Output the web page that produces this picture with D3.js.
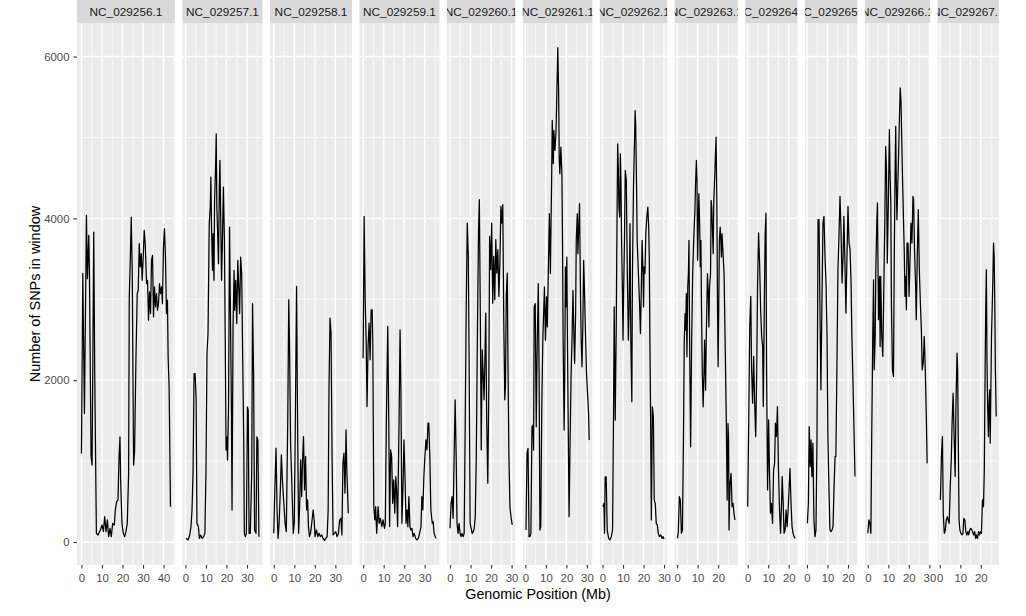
<!DOCTYPE html>
<html>
<head>
<meta charset="utf-8">
<script src="https://cdn.jsdelivr.net/npm/d3@7"></script>
<style>
  body { margin: 0; background: #fff; }
  text { font-family: "Liberation Sans", Arial, sans-serif; }
</style>
</head>
<body>
<svg id="chart" width="1026" height="616"></svg>
<script>
// chromosome (facet) labels
const chromosomes = ["NC_029256.1", "NC_029257.1", "NC_029258.1", "NC_029259.1",
  "NC_029260.1", "NC_029261.1", "NC_029262.1", "NC_029263.1", "NC_029264.1",
  "NC_029265.1", "NC_029266.1", "NC_029267.1"];

// [position (Mb), SNPs in window]
const nc029256 = [[0,1095],[0.65,3317],[1.46,1588],[2.43,4037],[2.91,3255],[3.56,3790],[3.88,3358],[4.69,1053],[5.18,950],[5.99,3831],[6.47,2082],[7.28,107],[8.09,86],[9.22,148],[10.03,210],[10.68,128],[11.33,313],[11.97,128],[12.62,272],[13.27,66],[13.92,169],[14.56,66],[15.21,230],[16.02,210],[16.5,395],[17.15,498],[17.8,518],[18.28,1012],[18.77,1300],[19.09,765],[19.74,230],[20.39,107],[21.04,66],[21.68,128],[22.33,230],[22.98,848],[23.3,3029],[23.79,3481],[24.27,4016],[24.76,3317],[25.4,950],[25.89,1115],[26.54,2247],[27.18,3070],[27.67,3111],[28.16,3687],[28.64,3399],[29.13,3564],[29.61,3234],[30.1,3522],[30.58,3852],[31.07,3687],[31.72,3193],[32.2,3234],[32.69,2741],[33.17,3090],[33.66,2823],[34.14,3481],[34.63,3543],[35.11,2782],[35.6,3152],[36.08,2905],[36.57,3070],[37.06,2864],[37.54,2946],[38.03,3193],[38.51,3070],[39,3152],[39.48,2946],[39.97,3646],[40.45,3872],[40.94,3522],[41.42,2823],[41.91,2988],[42.23,2288],[42.72,1918],[43.37,436]];

const nc029257 = [[0.3,45],[1.3,25],[2.1,86],[2.7,190],[3.2,395],[3.7,848],[4.2,2082],[4.7,2082],[5.2,1774],[5.6,230],[6.3,190],[6.8,45],[7.4,86],[8.1,45],[8.9,66],[9.5,107],[10,848],[10.5,2329],[11,2576],[11.6,3934],[12.1,4140],[12.4,4510],[12.7,3893],[13.2,3358],[13.5,3811],[13.9,3234],[14.2,4222],[14.7,4634],[15,5045],[15.3,4140],[15.8,3728],[16.1,3440],[16.5,4346],[16.8,4716],[17.3,3811],[17.6,3234],[18.1,3811],[18.5,4387],[19,3728],[19.4,2494],[19.8,1136],[20.2,1300],[20.5,1012],[21,1671],[21.5,3893],[21.9,2905],[22.4,1671],[22.7,395],[23.2,2658],[23.7,3358],[24,2864],[24.5,3234],[25,2699],[25.5,3481],[25.9,3193],[26.4,2823],[26.9,3522],[27.4,3317],[27.9,2288],[28.4,1259],[28.7,107],[29.2,66],[29.7,107],[30.2,1671],[30.6,1630],[31,107],[31.6,107],[32.3,848],[32.7,2946],[33.2,2082],[33.7,148],[34.4,107],[34.8,1300],[35.3,1259],[35.8,66]];

const nc029258 = [[0,107],[0.5,643],[1.1,1159],[1.6,396],[2.1,45],[2.6,231],[3.2,643],[3.7,1076],[4.2,767],[4.8,520],[5.5,231],[6.1,128],[6.8,1468],[7.3,2994],[7.7,2375],[8.2,1221],[8.9,643],[9.5,107],[10,231],[10.5,1509],[11.1,3159],[11.6,1468],[12.1,107],[12.6,437],[13.1,1015],[13.6,561],[14,994],[14.5,1303],[15,643],[15.5,1056],[16,396],[16.5,520],[16.9,190],[17.4,66],[17.9,107],[18.5,231],[19.2,396],[19.7,272],[20.1,66],[20.8,148],[21.5,66],[22.1,107],[22.7,66],[23.4,87],[24,45],[24.7,20],[25.3,45],[26,66],[26.5,396],[26.9,1881],[27.4,2767],[27.9,2582],[28.4,1056],[28.9,87],[29.5,107],[30.2,128],[30.8,66],[31.5,107],[32.1,272],[32.7,293],[33.2,87],[33.7,973],[34.2,1097],[34.7,602],[35.2,1386],[35.6,891],[36.3,355]];

const nc029259 = [[0,2272],[0.5,4025],[1,2994],[1.5,2458],[1.9,1674],[2.4,2417],[2.9,2705],[3.4,2252],[3.9,2870],[4.4,2870],[4.7,2499],[5.2,437],[5.7,272],[6.1,437],[6.6,107],[7.3,437],[7.8,231],[8.4,293],[9.1,190],[9.7,272],[10.4,169],[10.8,231],[11.3,1468],[12,2664],[12.5,1468],[12.9,190],[13.4,1138],[13.9,1056],[14.4,478],[14.9,767],[15.4,355],[15.9,808],[16.3,643],[16.8,190],[17.5,1468],[18,2623],[18.4,1881],[18.9,231],[19.4,643],[19.9,1262],[20.4,808],[20.9,231],[21.4,396],[21.8,190],[22.3,561],[22.8,190],[23.3,148],[23.8,169],[24.3,66],[24.9,107],[25.6,45],[26.2,25],[26.9,45],[27.5,107],[28.2,190],[28.6,561],[29.1,396],[29.6,808],[30.1,1056],[30.6,1262],[31.1,1138],[31.6,1468],[32,1468],[32.5,1056],[33,396],[33.7,231],[34.1,252],[34.6,107],[35.4,45]];

const nc029260 = [[0,169],[0.5,478],[1,561],[1.5,293],[2,1056],[2.5,1757],[3,1056],[3.4,231],[3.9,107],[4.4,231],[4.9,107],[5.4,66],[5.9,107],[6.4,66],[6.9,107],[7.4,1468],[7.9,2911],[8.4,3942],[8.9,3530],[9.3,2293],[9.8,231],[10.3,169],[10.8,107],[11.3,128],[11.8,169],[12.3,313],[12.8,1056],[13.4,2705],[13.9,3860],[14.3,4231],[14.8,2705],[15.2,1138],[15.7,2375],[16.2,2045],[16.6,1757],[16.9,2128],[17.4,2829],[17.9,1468],[18.4,726],[18.9,1881],[19.3,3778],[19.8,3365],[20.3,3942],[20.8,2952],[21.3,3530],[21.8,2994],[22.3,3736],[22.8,3324],[23.3,3612],[23.8,3035],[24.3,3448],[24.8,4149],[25.2,3942],[25.7,4169],[26.2,2705],[26.7,1757],[27,1922],[27.4,3035],[27.9,3324],[28.2,2293],[28.7,1056],[29.2,437],[29.7,313],[30.3,210]];

const nc029261 = [[0.3,148],[0.8,1095],[1.3,1156],[1.8,66],[2.2,66],[2.7,107],[3.2,1424],[3.7,1444],[4,1136],[4.3,2905],[4.8,2946],[5.3,1424],[5.8,2494],[6.3,3193],[6.7,2082],[7.1,148],[7.5,190],[8,1671],[8.5,2494],[9,2905],[9.3,3152],[9.8,2494],[10.3,3029],[10.7,2658],[11.1,3234],[11.4,3646],[11.7,4057],[12.2,3317],[12.5,3934],[12.8,4469],[13.1,5210],[13.6,4675],[13.9,5086],[14.4,4839],[14.9,5045],[15.2,5374],[15.5,5745],[15.8,6110],[16.2,5580],[16.5,4757],[16.8,4551],[17.3,4880],[17.8,4551],[18.1,3728],[18.4,2494],[18.9,1383],[19.2,2082],[19.5,3399],[19.9,2905],[20.2,3522],[20.5,2494],[20.8,1671],[21.3,313],[21.8,1259],[22.3,2082],[22.8,2576],[23.2,3111],[23.7,2494],[24,2206],[24.5,2823],[24.8,3728],[25.3,4057],[25.6,3564],[26,3893],[26.4,4181],[26.9,2988],[27.2,2494],[27.6,2165],[28,2658],[28.4,3481],[28.8,3111],[29.3,2576],[29.8,2082],[30.3,1835],[30.8,1588],[31.1,1259]];

const nc029262 = [[0.2,436],[0.7,477],[1,107],[1.3,806],[1.8,806],[2.3,148],[3,45],[3.6,25],[4.3,66],[4.9,148],[5.4,1671],[5.7,2905],[6.2,1506],[6.7,2658],[7,3728],[7.4,4922],[7.7,4634],[8,4140],[8.4,4016],[8.7,4798],[9,4469],[9.3,3728],[9.7,3111],[10,2494],[10.3,3111],[10.7,3728],[11.1,4593],[11.6,4469],[12.1,3317],[12.6,2494],[13,2905],[13.4,3934],[13.8,2494],[14.3,1732],[14.6,3317],[15.1,4387],[15.6,4963],[15.9,5333],[16.2,5127],[16.6,4387],[16.9,3728],[17.2,3522],[17.5,3317],[18,2988],[18.5,2576],[18.9,3111],[19.3,3728],[19.7,3399],[20,2905],[20.3,3399],[20.7,3317],[21.1,3811],[21.6,4016],[22.1,4140],[22.5,3893],[22.8,3522],[23.1,2494],[23.4,1671],[23.8,272],[24.3,1671],[24.8,1547],[25.2,518],[25.7,477],[26.2,230],[26.7,210],[27.2,107],[27.7,66],[28.4,86],[29,45],[29.5,66],[30,37]];

const nc029263 = [[0.2,45],[0.6,128],[1.1,560],[1.6,518],[2.1,107],[2.6,148],[3.1,1259],[3.5,2494],[3.9,2823],[4.2,2617],[4.5,3070],[4.8,2288],[5.2,3152],[5.5,3317],[5.8,3728],[6.1,2494],[6.6,1177],[7.1,2494],[7.6,3317],[8.1,3728],[8.4,3934],[8.7,4099],[9,4428],[9.4,4716],[9.7,4469],[10,3481],[10.3,3893],[10.6,4305],[11,3934],[11.3,3399],[11.6,3728],[11.9,2905],[12.3,2082],[12.7,1671],[13.1,2082],[13.4,2494],[13.9,1876],[14.2,2494],[14.5,2905],[14.8,3317],[15.2,3070],[15.5,2658],[15.8,3152],[16.3,3317],[16.6,4222],[16.9,4140],[17.3,3811],[17.6,3564],[17.9,4222],[18.4,4551],[18.7,4798],[19,5004],[19.4,4140],[19.7,2905],[20,2165],[20.3,2905],[20.6,3728],[21,3893],[21.3,3728],[21.6,3522],[21.9,3811],[22.4,3564],[22.9,3317],[23.4,2494],[24,1465],[24.4,518],[24.8,1465],[25.1,1259],[25.3,148],[25.8,724],[26.3,848],[26.8,436],[27.3,477],[27.7,354],[28.2,272]];

const nc029264 = [[0,437],[0.5,1509],[1,2664],[1.5,3035],[1.9,2128],[2.4,1716],[2.9,2293],[3.4,1716],[3.9,1303],[4.4,2128],[4.8,3159],[5.3,3819],[5.8,3448],[6.3,2870],[6.8,2540],[7.3,2417],[7.6,1674],[8.1,2953],[8.5,3777],[8.9,4066],[9.2,2128],[9.7,643],[10.2,1509],[10.6,891],[11.1,355],[11.6,478],[12.1,231],[12.6,891],[13.1,973],[13.5,1468],[14,1303],[14.5,1674],[15,891],[15.5,396],[16,107],[16.5,478],[16.8,808],[17.3,478],[17.7,107],[18.2,148],[18.7,396],[19.2,190],[19.7,396],[20.2,684],[20.6,911],[21.1,478],[21.6,190],[22.1,107],[22.6,66],[23.1,45]];

const nc029265 = [[0.2,231],[0.7,478],[1.1,1427],[1.6,932],[2,1262],[2.4,808],[2.9,1221],[3.4,272],[3.9,66],[4.4,148],[4.9,1303],[5.4,3984],[5.9,3984],[6.3,2953],[6.8,1881],[7.3,2953],[7.8,3942],[8.3,4025],[8.8,3530],[9.3,3200],[9.8,2540],[10.2,1303],[10.7,684],[11.2,148],[11.7,128],[12.2,148],[12.7,190],[13.2,684],[13.7,1056],[14.1,1056],[14.6,2128],[15.1,3365],[15.6,3777],[16.1,4272],[16.6,3860],[17.1,3200],[17.6,3530],[18,4025],[18.5,3448],[19,2829],[19.5,3530],[20,4149],[20.5,3695],[21,3613],[21.5,3200],[21.9,2540],[22.4,2004],[22.9,1427],[23.4,808]];

const nc029266 = [[0,107],[0.5,272],[1,231],[1.5,107],[1.9,1303],[2.4,2540],[2.8,3241],[3.1,2128],[3.6,2540],[3.9,3365],[4.4,3984],[4.7,4190],[5.2,2747],[5.7,3283],[6,2417],[6.3,3283],[6.8,2540],[7.3,2293],[7.8,3159],[8.3,3984],[8.7,4891],[9.1,4602],[9.5,3448],[10,4190],[10.5,5097],[10.8,4602],[11.2,4190],[11.5,2953],[12,2128],[12.5,2045],[12.9,3571],[13.3,4602],[13.6,5138],[13.9,4396],[14.2,3984],[14.6,4396],[14.9,4684],[15.2,5015],[15.5,5345],[15.8,5613],[16.2,5427],[16.5,5015],[17,4396],[17.5,3860],[17.8,3530],[18.1,3035],[18.4,3283],[18.8,2870],[19.1,3695],[19.6,3695],[20.1,3035],[20.6,3530],[21,3942],[21.5,3695],[22,4272],[22.3,4231],[22.8,3571],[23.3,3159],[23.6,2747],[24.1,3530],[24.6,4107],[25.1,3365],[25.6,2953],[26.1,2623],[26.5,2128],[27,2210],[27.5,2540],[28,2128],[28.5,1551],[28.9,973]];

const nc029267 = [[0.3,520],[0.8,1056],[1.3,1303],[1.7,355],[2.2,107],[2.7,148],[3.2,272],[3.7,313],[4.1,272],[4.6,231],[5.1,684],[5.6,1015],[6,1468],[6.5,1839],[7,1303],[7.5,808],[7.9,1716],[8.4,2334],[8.7,2128],[9,1303],[9.4,272],[9.8,148],[10.3,107],[10.8,87],[11.3,107],[11.7,293],[12.2,272],[12.7,128],[13.2,87],[13.7,128],[14.1,87],[14.6,148],[15.1,169],[15.6,148],[16,128],[16.5,87],[17,128],[17.5,45],[17.9,87],[18.4,45],[18.9,128],[19.4,87],[19.8,128],[20.3,107],[20.8,520],[21.3,437],[21.7,891],[22.1,2128],[22.4,2870],[22.7,3365],[23,2252],[23.3,1716],[23.7,1303],[24,1716],[24.3,1881],[24.6,1221],[24.9,1881],[25.2,2540],[25.6,2953],[25.9,3283],[26.2,3695],[26.5,3530],[26.8,2953],[27.1,2128],[27.5,1551]];

const series = [nc029256, nc029257, nc029258, nc029259, nc029260, nc029261,
  nc029262, nc029263, nc029264, nc029265, nc029266, nc029267];

const yBreaks = [0, 2000, 4000, 6000];
const yMinorBreaks = [1000, 3000, 5000];

// layout
const plotLeft = 77, plotRight = 999;
const stripTop = 0, stripH = 23;
const panelTop = stripTop + stripH, panelBottom = 565;
const gap = 7.5;

const svg = d3.select("#chart");
svg.append("rect").attr("width", 1026).attr("height", 616).attr("fill", "#fff");

// ggplot-like 5% expansion on both scales
function expand([lo, hi]) {
  const r = hi - lo;
  return [lo - 0.05 * r, hi + 0.05 * r];
}

const allValues = series.flat().map(d => d[1]);
const y = d3.scaleLinear()
  .domain(expand(d3.extent(allValues)))
  .range([panelBottom, panelTop]);

const xDomains = series.map(s => expand(d3.extent(s, d => d[0])));
const spans = xDomains.map(d => d[1] - d[0]);
const pxPerMb = (plotRight - plotLeft - gap * (series.length - 1)) / d3.sum(spans);

const defs = svg.append("defs");
let left = plotLeft;

series.forEach((s, i) => {
  const w = spans[i] * pxPerMb;
  const x = d3.scaleLinear().domain(xDomains[i]).range([left, left + w]);
  const [d0, d1] = xDomains[i];
  const majors = d3.range(Math.ceil(d0 / 10) * 10, d1 + 1e-9, 10);
  const minors = d3.range(Math.ceil((d0 - 5) / 10) * 10 + 5, d1 + 1e-9, 10)
    .filter(v => v >= d0);

  const g = svg.append("g");

  g.append("rect")
    .attr("x", left).attr("y", panelTop)
    .attr("width", w).attr("height", panelBottom - panelTop)
    .attr("fill", "#EBEBEB");

  // minor grid
  g.selectAll(".ymin").data(yMinorBreaks).join("line")
    .attr("x1", left).attr("x2", left + w)
    .attr("y1", d => y(d)).attr("y2", d => y(d))
    .attr("stroke", "#fff").attr("stroke-width", 0.7);
  g.selectAll(".xmin").data(minors).join("line")
    .attr("x1", d => x(d)).attr("x2", d => x(d))
    .attr("y1", panelTop).attr("y2", panelBottom)
    .attr("stroke", "#fff").attr("stroke-width", 0.7);

  // major grid
  g.selectAll(".ymaj").data(yBreaks).join("line")
    .attr("x1", left).attr("x2", left + w)
    .attr("y1", d => y(d)).attr("y2", d => y(d))
    .attr("stroke", "#fff").attr("stroke-width", 1.4);
  g.selectAll(".xmaj").data(majors).join("line")
    .attr("x1", d => x(d)).attr("x2", d => x(d))
    .attr("y1", panelTop).attr("y2", panelBottom)
    .attr("stroke", "#fff").attr("stroke-width", 1.4);

  // the series
  g.append("path")
    .datum(s)
    .attr("fill", "none")
    .attr("stroke", "#000")
    .attr("stroke-width", 1.25)
    .attr("stroke-linejoin", "round")
    .attr("d", d3.line().x(d => x(d[0])).y(d => y(d[1])));

  // strip, label clipped to the strip like ggplot does
  const clipId = "strip" + i;
  defs.append("clipPath").attr("id", clipId)
    .append("rect")
    .attr("x", left).attr("y", stripTop)
    .attr("width", w).attr("height", stripH);
  g.append("rect")
    .attr("x", left).attr("y", stripTop)
    .attr("width", w).attr("height", stripH)
    .attr("fill", "#D9D9D9");
  g.append("text")
    .attr("clip-path", `url(#${clipId})`)
    .attr("x", left + w / 2).attr("y", stripTop + 16.2)
    .attr("text-anchor", "middle")
    .attr("font-size", "11.8px")
    .attr("fill", "#1A1A1A")
    .text(chromosomes[i]);

  // x axis
  const ax = g.append("g")
    .attr("transform", `translate(0,${panelBottom})`)
    .call(d3.axisBottom(x).tickValues(majors).tickFormat(d3.format("d"))
      .tickSize(3.6).tickPadding(5.4));
  ax.select(".domain").remove();
  ax.selectAll(".tick line").attr("stroke", "#333333").attr("stroke-width", 1.1);
  ax.selectAll(".tick text").attr("fill", "#4D4D4D")
    .style("font-size", "11.4px").style("font-family", "'Liberation Sans', Arial, sans-serif");

  left += w + gap;
});

// y axis on the first panel
const ay = svg.append("g")
  .attr("transform", `translate(${plotLeft},0)`)
  .call(d3.axisLeft(y).tickValues(yBreaks).tickFormat(d3.format("d"))
    .tickSize(3.6).tickPadding(3.9));
ay.select(".domain").remove();
ay.selectAll(".tick line").attr("stroke", "#333333").attr("stroke-width", 1.1);
ay.selectAll(".tick text").attr("fill", "#4D4D4D")
  .style("font-size", "11.4px").style("font-family", "'Liberation Sans', Arial, sans-serif");

// axis titles
svg.append("text")
  .attr("x", (plotLeft + plotRight) / 2).attr("y", 599)
  .attr("text-anchor", "middle")
  .attr("font-size", "14.3px")
  .attr("fill", "#000")
  .text("Genomic Position (Mb)");

svg.append("text")
  .attr("transform", `translate(39.5,${(panelTop + panelBottom) / 2}) rotate(-90)`)
  .attr("text-anchor", "middle")
  .attr("font-size", "14.5px")
  .attr("fill", "#000")
  .text("Number of SNPs in window");
</script>
</body>
</html>
